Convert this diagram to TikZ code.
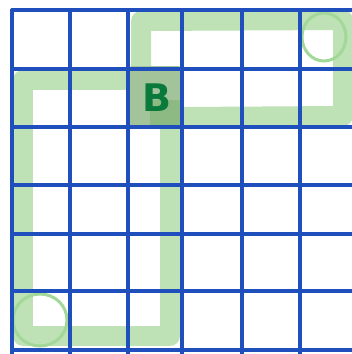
\documentclass[tikz,border=0pt]{standalone}
\usepackage{fontspec}
\setsansfont{DejaVu Sans}
\begin{document}
\begin{tikzpicture}[x=1pt,y=-1pt,
  gridline/.style={draw=gridblue, line width=3.4pt, line cap=round},
  band/.style={draw=bandgreen, line width=20pt, line join=round, line cap=round},
  ring/.style={draw=ringgreen, line width=3pt}]
\definecolor{gridblue}{HTML}{1F4EBD}
\definecolor{bandgreen}{HTML}{BEE2B5}
\definecolor{ringgreen}{HTML}{A2D898}
\definecolor{cellfill}{HTML}{A3C49B}
\definecolor{celldark}{HTML}{8DBA82}
\definecolor{letgreen}{HTML}{0A7A3C}
\useasboundingbox (0,0) rectangle (352,354);
\fill[white] (0,0) rectangle (352,354);
% green bands
\draw[band] (180,117) -- (343,116) -- (343,20) -- (141,21) -- (141,110);
\draw[band] (130,80) -- (23,80) -- (23,336) -- (170,336) -- (170,130);
% B cell
\fill[cellfill, rounded corners=4pt] (128,66) rectangle (182,128);
\fill[celldark, rounded corners=4pt] (150,100) rectangle (182,128);
\node[font=\sffamily\bfseries\fontsize{38}{38}\selectfont, text=letgreen] (B) at (157,98) {B};
% rings
\draw[ring] (324,37) ellipse [x radius=22, y radius=24];
\draw[ring] (40,320) ellipse [x radius=27, y radius=26];
% grid
\foreach \x in {12,70,128,182,242,300} \draw[gridline] (\x,10) -- (\x,354);
\foreach \y in {10,69,127,185,234,291,350} \draw[gridline] (12,\y) -- (352,\y);
\end{tikzpicture}
\end{document}
